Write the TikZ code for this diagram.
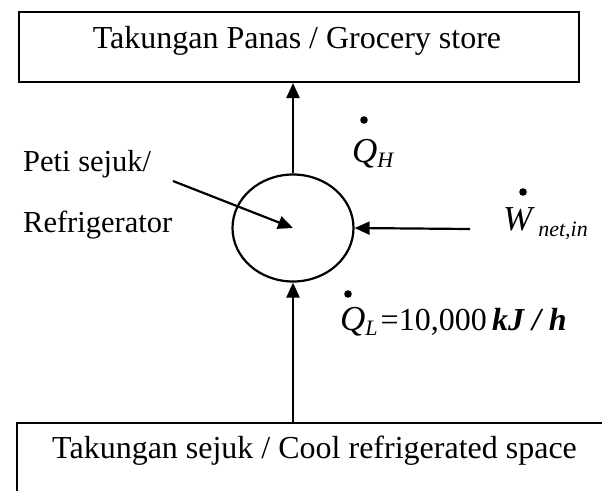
\documentclass[tikz,border=0pt]{standalone}
\usepackage{fontspec}
\usepackage{graphicx}
\setmainfont{Liberation Serif}
\usetikzlibrary{arrows.meta,shapes.geometric}
\newcommand{\mvar}[1]{{\fontsize{35}{35}\selectfont\itshape #1}}
\newcommand{\msubs}[2][-5pt]{\raisebox{#1}{\fontsize{22}{22}\selectfont\itshape #2}}
\begin{document}
\begin{tikzpicture}[x=1pt,y=-1pt,
  boxline/.style={draw, line width=2pt, inner sep=0pt, anchor=north west},
  arr/.style={line width=2.2pt, -{Triangle[length=15pt,width=13pt]}},
  boxtext/.style={font=\fontsize{32}{32}\selectfont, inner sep=0pt},
  lbl/.style={font=\fontsize{30.5}{30.5}\selectfont, inner sep=0pt, anchor=base west},
  mlbl/.style={inner sep=0pt, anchor=base west},
  dotmark/.style={fill=black}]
\useasboundingbox (0,0) rectangle (602,490);
\clip (0,0) rectangle (602,490);
% reservoirs
\node[boxline, minimum width=560pt, minimum height=70pt] (hot) at (18,11) {};
\node[boxtext, anchor=base] (hottext) at (297,48) {Takungan Panas / Grocery store};
\node[boxline, minimum width=700pt, minimum height=150pt] (cold) at (16,422) {};
\node[boxtext, anchor=base west] (coldtext) at (52,458) {Takungan sejuk / Cool refrigerated space};
% refrigerator
\node[ellipse, draw, line width=2.2pt, minimum width=121pt, minimum height=107pt, inner sep=0pt] (fr) at (293,228) {};
\draw[arr] (fr.north) -- (fr.north |- hot.south);
\draw[arr] (fr.south |- cold.north) -- (fr.south);
% left label
\node[lbl] (peti) at (23,171) {Peti sejuk/};
\node[lbl] (refr) at (23,232) {Refrigerator};
\coordinate (dstart) at (173,181);
\draw[arr] (dstart) -- (fr.center);
% work input
\coordinate (wstart) at (470,229);
\draw[arr] (wstart) -- (fr.east);
% math labels
\node[mlbl] (qh) at (352,162) {\mvar{Q}\msubs{H}};
\fill[dotmark] (364,120) circle (3.8pt);
\node[mlbl] (w) at (503,230) {\mvar{W}\hspace{6pt}\msubs[-6pt]{net,in}};
\fill[dotmark] (523,192) circle (3.8pt);
\node[mlbl] (ql) at (340,330) {\mvar{Q}\msubs{L}\hspace{3pt}{\fontsize{32}{32}\selectfont =10,000\,\textbf{\textit{kJ / h}}}};
\fill[dotmark] (348,294) circle (3.8pt);
\end{tikzpicture}
\end{document}
